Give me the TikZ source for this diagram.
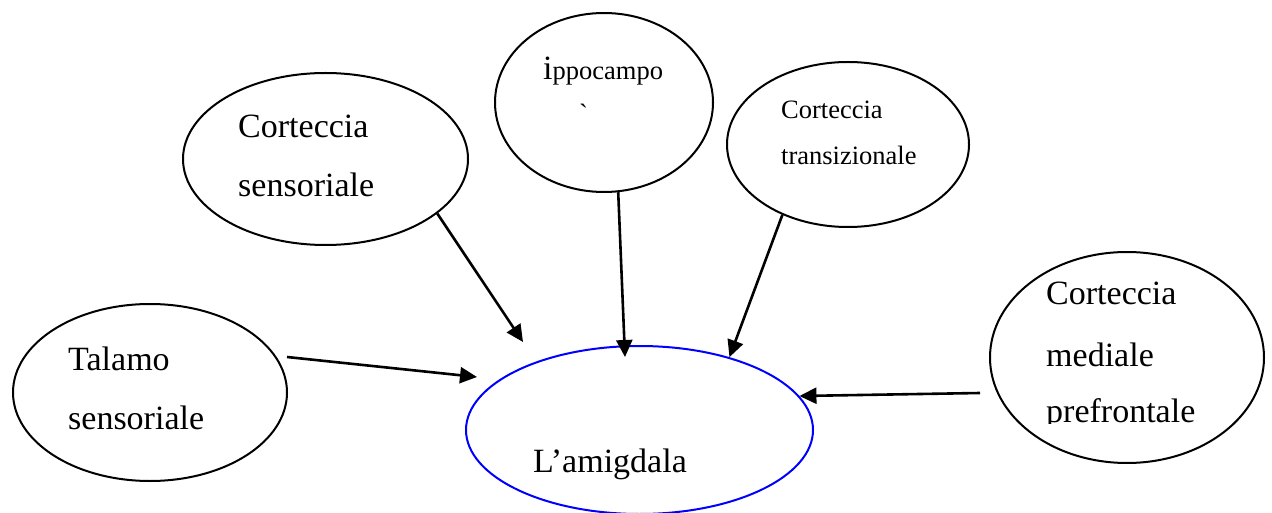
\documentclass[tikz,border=0pt]{standalone}
\usepackage{fontspec}
\setmainfont{Liberation Serif}
% same face without TeX input ligatures, so that ` stays a grave accent
\newfontfamily\rawserif{Liberation Serif}
\usetikzlibrary{arrows.meta,shapes.geometric}

\begin{document}
\begin{tikzpicture}[x=1pt,y=-1pt,
  region/.style={ellipse, draw=black, line width=2pt, inner sep=0pt},
  link/.style={line width=2.6pt, -{Triangle[length=17pt,width=16pt]}},
  big/.style={font=\fontsize{34}{40}\selectfont, anchor=base west, inner sep=0pt},
  small/.style={font=\fontsize{26.5}{31}\selectfont, anchor=base west, inner sep=0pt}]
\useasboundingbox (0,0) rectangle (1272,513);

% regions
\node[region, minimum width=285pt, minimum height=172pt] (sens)  at (325.5,159) {};
\node[region, minimum width=218pt, minimum height=179pt] (hipp)  at (604,102.5) {};
\node[region, minimum width=242pt, minimum height=165pt] (trans) at (848,144.5) {};
\node[region, minimum width=274pt, minimum height=177pt] (tal)   at (150,392.5) {};
\node[region, minimum width=274pt, minimum height=211pt] (med)   at (1127,357.5) {};
\node[region, draw=blue, minimum width=347pt, minimum height=168pt] (amig) at (639.5,430) {};

% labels
\node[big] (sensA) at (238,138) {Corteccia};
\node[big] (sensB) at (238,197) {sensoriale};
\node[big] (talA) at (68,370) {Talamo};
\node[big] (talB) at (68,429) {sensoriale};
\node[big] (medA) at (1046,305) {Corteccia};
\node[big] (medB) at (1046,366) {mediale};
\begin{scope}
  \clip (1000,250) rectangle (1270,423);
  \node[big] (medC) at (1046,422) {prefrontale};
\end{scope}
\node[big] (amigA) at (533,472) {L’amigdala};
\node[small] (hippA) at (543,80) {{\fontsize{34}{40}\selectfont i}ppocampo};
\node[small] (hippB) at (579,123) {\rawserif `};
\node[small] (transA) at (781,119) {Corteccia};
\node[small] (transB) at (781,165) {transizionale};

% connector ends
\coordinate (talOut) at (287,357);
\coordinate (amigW)  at (477,377);
\coordinate (amigNW) at (523,342);
\coordinate (amigN)  at (625,357);
\coordinate (medOut) at (980,393);

% connectors
\draw[link] (talOut) -- (amigW);
\draw[link] (sens.-26.7) -- (amigNW);
\draw[link] (hipp.-81.7) -- (amigN);
\draw[link] (trans.-133.6) -- (amig.39.2);
\draw[link] (medOut) -- (amig.12.9);
\end{tikzpicture}
\end{document}
